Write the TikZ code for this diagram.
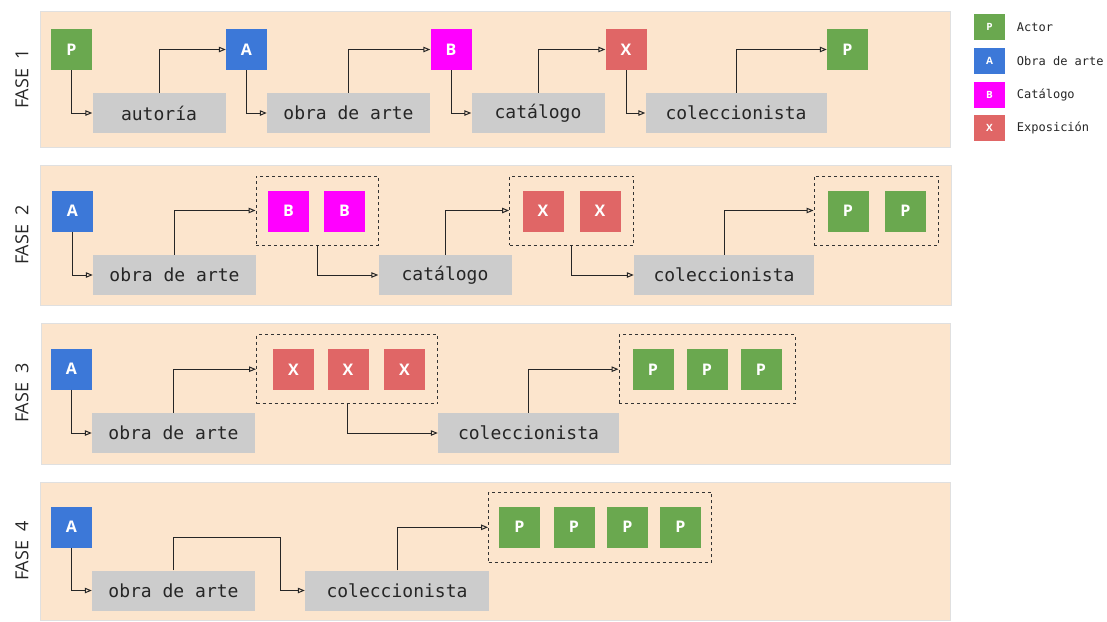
\documentclass[tikz,border=0pt]{standalone}
\usepackage{fontspec}
\setmonofont{DejaVu Sans Mono}
\newfontfamily\boxfont{Open Sans}
\usetikzlibrary{arrows.meta}
\definecolor{actorcol}{HTML}{6AA84F}
\definecolor{obracol}{HTML}{3C78D8}
\definecolor{catcol}{HTML}{FF00FF}
\definecolor{expocol}{HTML}{E06666}
\definecolor{graycol}{HTML}{CCCCCC}
\definecolor{peachcol}{HTML}{FCE5CD}

\begin{document}
\begin{tikzpicture}[x=1pt, y=-1pt,
panel/.style={draw=black!12, fill=peachcol, line width=0.8pt},
fasenode/.style={rotate=90, text=black!85, font=\boxfont\fontsize{18}{18}\selectfont},
letternode/.style={minimum width=41pt, minimum height=41pt, inner sep=0pt, text=white, font=\boxfont\bfseries\fontsize{16}{16}\selectfont},
pnode/.style={letternode, fill=actorcol},
anode/.style={letternode, fill=obracol},
bnode/.style={letternode, fill=catcol},
xnode/.style={letternode, fill=expocol},
graynode/.style={fill=graycol, minimum height=40pt, inner sep=0pt, text=black!85, font=\ttfamily\fontsize{18}{18}\selectfont},
dashnode/.style={draw=black!80, dashed, line width=0.9pt, minimum height=69pt, inner sep=0pt},
legnode/.style={minimum width=31pt, minimum height=26pt, inner sep=0pt, text=white, font=\boxfont\bfseries\fontsize{10}{10}\selectfont},
legtext/.style={anchor=west, inner sep=0pt, text=black!85, font=\ttfamily\fontsize{12}{12}\selectfont},
link/.style={draw=black!85, line width=1pt, -{Triangle[open,length=7pt,width=5.5pt]}}
]
    \useasboundingbox (0,0) rectangle (1107,621);

    \draw[panel] (40,11) rectangle (950,147);
    \draw[panel] (40,165) rectangle (951,305);
    \draw[panel] (41,323) rectangle (950,464);
    \draw[panel] (40,482) rectangle (950,620);

    \node[fasenode] (f1) at (22,79) {FASE\ \ 1};
    \node[fasenode] (f2) at (22,235) {FASE\ \ 2};
    \node[fasenode] (f3) at (22,393) {FASE\ \ 3};
    \node[fasenode] (f4) at (22,551) {FASE\ \ 4};

    % fase 1
    \node[pnode] (p1) at (71.5,49.5) {P};
    \node[graynode, minimum width=133pt] (aut1) at (159,113) {autoría};
    \node[anode] (a1) at (246.5,49.5) {A};
    \node[graynode, minimum width=163pt] (obra1) at (348.5,113) {obra de arte};
    \node[bnode] (b1) at (451,49.5) {B};
    \node[graynode, minimum width=133pt] (cat1) at (538,113) {catálogo};
    \node[xnode] (x1) at (626,49.5) {X};
    \node[graynode, minimum width=181pt] (col1) at (736,113) {coleccionista};
    \node[pnode] (p1b) at (847.5,49.5) {P};

    \draw[link] (p1) |- (aut1);
    \draw[link] (aut1) |- (a1);
    \draw[link] (a1) |- (obra1);
    \draw[link] (obra1) |- (b1);
    \draw[link] (b1) |- (cat1);
    \draw[link] (cat1) |- (x1);
    \draw[link] (x1) |- (col1);
    \draw[link] (col1) |- (p1b);

    % fase 2
    \node[anode] (a2) at (72.5,211) {A};
    \node[graynode, minimum width=163pt] (obra2) at (174.5,275) {obra de arte};
    \node[dashnode, minimum width=122pt] (g2b) at (317,210.5) {};
    \node[bnode] (b2a) at (288.5,211) {B};
    \node[bnode] (b2b) at (344.5,211) {B};
    \node[graynode, minimum width=133pt] (cat2) at (445,275) {catálogo};
    \node[dashnode, minimum width=124pt] (g2x) at (571.5,210.5) {};
    \node[xnode] (x2a) at (543,211) {X};
    \node[xnode] (x2b) at (600,211) {X};
    \node[graynode, minimum width=180pt] (col2) at (724,275) {coleccionista};
    \node[dashnode, minimum width=124pt] (g2p) at (876,210.5) {};
    \node[pnode] (p2a) at (848,211) {P};
    \node[pnode] (p2b) at (905.5,211) {P};

    \draw[link] (a2) |- (obra2);
    \draw[link] (obra2) |- (g2b);
    \draw[link] (g2b) |- (cat2);
    \draw[link] (cat2) |- (g2x);
    \draw[link] (g2x) |- (col2);
    \draw[link] (col2) |- (g2p);

    % fase 3
    \node[anode] (a3) at (71.5,369) {A};
    \node[graynode, minimum width=163pt] (obra3) at (173.5,433) {obra de arte};
    \node[dashnode, minimum width=181pt] (g3x) at (347,369.2) {};
    \node[xnode] (x3a) at (293.5,369.5) {X};
    \node[xnode] (x3b) at (348,369.5) {X};
    \node[xnode] (x3c) at (404.5,369.5) {X};
    \node[graynode, minimum width=181pt] (col3) at (528.5,433) {coleccionista};
    \node[dashnode, minimum width=176pt] (g3p) at (707,369.2) {};
    \node[pnode] (p3a) at (653,369.5) {P};
    \node[pnode] (p3b) at (707,369.5) {P};
    \node[pnode] (p3c) at (761,369.5) {P};

    \draw[link] (a3) |- (obra3);
    \draw[link] (obra3) |- (g3x);
    \draw[link] (g3x) |- (col3);
    \draw[link] (col3) |- (g3p);

    % fase 4
    \node[anode] (a4) at (71.5,527) {A};
    \node[graynode, minimum width=163pt] (obra4) at (173.5,590.5) {obra de arte};
    \node[graynode, minimum width=184pt] (col4) at (397,590.5) {coleccionista};
    \node[dashnode, minimum width=223pt, minimum height=70pt] (g4p) at (600,527.3) {};
    \node[pnode] (p4a) at (519.5,527) {P};
    \node[pnode] (p4b) at (574,527) {P};
    \node[pnode] (p4c) at (627.5,527) {P};
    \node[pnode] (p4d) at (680.5,527) {P};
    \coordinate (bend4) at (280.7,537.7);

    \draw[link] (a4) |- (obra4);
    \draw[link] (obra4) |- (bend4) |- (col4);
    \draw[link] (col4) |- (g4p);

    % leyenda
    \node[legnode, fill=actorcol] (lp) at (989.5,27.2) {P};
    \node[legnode, fill=obracol] (la) at (989.5,60.8) {A};
    \node[legnode, fill=catcol] (lb) at (989.5,94.5) {B};
    \node[legnode, fill=expocol] (lx) at (989.5,128.3) {X};
    \node[legtext] (tp) at (1016.7,27.2) {Actor};
    \node[legtext] (ta) at (1016.7,60.8) {Obra de arte};
    \node[legtext] (tb) at (1016.7,94.5) {Catálogo};
    \node[legtext] (tx) at (1016.7,128.3) {Exposición};
\end{tikzpicture}
\end{document}
